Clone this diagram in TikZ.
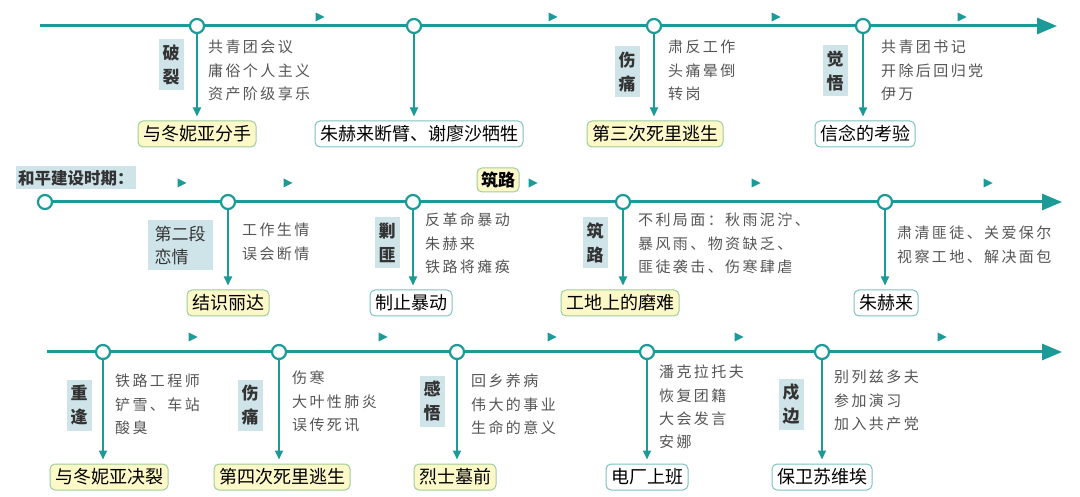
\documentclass[tikz,border=0pt]{standalone}
\usepackage{fontspec}
\setmainfont{Noto Sans CJK SC}
\newfontfamily\notefont[LetterSpace=16]{Noto Sans CJK SC}
\usetikzlibrary{arrows.meta}
\definecolor{tl}{HTML}{1B9A97}
\definecolor{tagbg}{HTML}{CFE4E9}
\definecolor{yfill}{HTML}{FCF8C8}
\definecolor{ydraw}{HTML}{9CCF98}
\definecolor{wdraw}{HTML}{7CC3BF}
\definecolor{notegray}{HTML}{555555}
\tikzset{
  axis/.style={draw=tl, line width=3pt, -{Triangle[length=20pt,width=16pt]}},
  dot/.style={circle, draw=tl, fill=white, line width=2.2pt, minimum size=14pt, inner sep=0pt},
  link/.style={draw=tl, line width=1.8pt, -{Triangle[length=9pt,width=8pt]}, shorten >=4pt},
  lbl/.style={rounded corners=5pt, line width=1pt, font=\fontsize{18}{20}\selectfont, inner xsep=5pt, inner ysep=3pt, minimum height=26pt},
  ybox/.style={lbl, draw=ydraw, fill=yfill},
  wbox/.style={lbl, draw=wdraw, fill=white},
  tag/.style={fill=tagbg, text=black!80, font=\bfseries\fontsize{17}{24}\selectfont, align=center, inner sep=0pt, minimum width=25pt, minimum height=51pt},
  note/.style={anchor=north west, align=left, inner sep=0pt, text=notegray, font=\notefont\fontsize{15}{23.3}\selectfont},
}
\begin{document}
\begin{tikzpicture}[x=1pt, y=-1pt, line join=round]
	\useasboundingbox (0,0) rectangle (1080,497);
	% 第一行
	\coordinate (s1) at (40,26);
	\coordinate (e1) at (1057,26);
	\draw[axis] (s1) -- (e1);
	\foreach \x in {320,553,776,962}
		\fill[tl] (\x-4.5,17-4.5) -- (\x+4.5,17) -- (\x-4.5,17+4.5) -- cycle;
	\node[dot] (d11) at (197,26) {};
	\node[dot] (d12) at (414,26) {};
	\node[dot] (d13) at (654,26) {};
	\node[dot] (d14) at (863,26) {};
	\node[ybox] (b11) at (197,134) {与冬妮亚分手};
	\node[wbox] (b12) at (419,134) {朱赫来断臂、谢廖沙牺牲};
	\node[ybox] (b13) at (655,134) {第三次死里逃生};
	\node[wbox] (b14) at (865,134) {信念的考验};
	\foreach \i in {1,...,4}
		\draw[link] (d1\i) -- (d1\i |- b1\i.north);
	\node[tag] (t11) at (171,65) {破\\裂};
	\node[tag] (t12) at (627,72) {伤\\痛};
	\node[tag] (t13) at (835,71) {觉\\悟};
	\node[note] (n11) at (208,40) {共青团会议\\庸俗个人主义\\资产阶级享乐};
	\node[note] (n12) at (668,40) {肃反工作\\头痛晕倒\\转岗};
	\node[note] (n13) at (881,40) {共青团书记\\开除后回归党\\伊万};
	
	% 第二行
	\node[fill=tagbg, text=black!80, font=\bfseries\fontsize{16.5}{18}\selectfont, inner xsep=2pt, inner ysep=2pt, minimum height=23pt, anchor=west] (era) at (16,178) {和平建设时期：};
	\node[dot] (d20) at (45,202) {};
	\coordinate (e2) at (1062,202);
	\draw[axis] (d20) -- (e2);
	\foreach \x in {182,288,533,756,988}
		\fill[tl] (\x-4.5,183-4.5) -- (\x+4.5,183) -- (\x-4.5,183+4.5) -- cycle;
	\node[ybox, font=\bfseries\fontsize{17}{18}\selectfont, minimum height=24pt, inner xsep=4pt] (zl) at (498,180) {筑路};
	\node[dot] (d21) at (228,202) {};
	\node[dot] (d22) at (413,202) {};
	\node[dot] (d23) at (623,202) {};
	\node[dot] (d24) at (885,202) {};
	\node[ybox] (b21) at (228,303) {结识丽达};
	\node[wbox] (b22) at (411,303) {制止暴动};
	\node[ybox] (b23) at (620,303) {工地上的磨难};
	\node[wbox] (b24) at (886,303) {朱赫来};
	\foreach \i in {1,...,4}
		\draw[link] (d2\i) -- (d2\i |- b2\i.north);
	\node[tag, align=left, font=\fontsize{17}{23}\selectfont, minimum width=65pt, minimum height=50pt] (t21) at (180,245) {第二段\\恋情};
	\node[tag] (t22) at (387,243) {剿\\匪};
	\node[tag] (t23) at (595,243) {筑\\路};
	\node[note] (n21) at (242,223) {工作生情\\误会断情};
	\node[note] (n22) at (425,213) {反革命暴动\\朱赫来\\铁路将瘫痪};
	\node[note] (n23) at (638,213) {不利局面：秋雨泥泞、\\暴风雨、物资缺乏、\\匪徒袭击、伤寒肆虐};
	\node[note] (n24) at (897,226) {肃清匪徒、关爱保尔\\视察工地、解决面包};
	
	% 第三行
	\coordinate (s3) at (47,352);
	\coordinate (e3) at (1062,352);
	\draw[axis] (s3) -- (e3);
	\foreach \x in {193,383,552,739,942}
		\fill[tl] (\x-4.5,337-4.5) -- (\x+4.5,337) -- (\x-4.5,337+4.5) -- cycle;
	\node[dot] (d31) at (103,352) {};
	\node[dot] (d32) at (279,352) {};
	\node[dot] (d33) at (457,352) {};
	\node[dot] (d34) at (647,352) {};
	\node[dot] (d35) at (822,352) {};
	\node[ybox] (b31) at (109,477) {与冬妮亚决裂};
	\node[ybox] (b32) at (282,477) {第四次死里逃生};
	\node[ybox] (b33) at (455,477) {烈士墓前};
	\node[wbox] (b34) at (647,477) {电厂上班};
	\node[wbox] (b35) at (822,477) {保卫苏维埃};
	\foreach \i in {1,...,5}
		\draw[link] (d3\i) -- (d3\i |- b3\i.north);
	\node[tag] (t31) at (79,405) {重\\逢};
	\node[tag] (t32) at (250,405) {伤\\痛};
	\node[tag] (t33) at (432,401) {感\\悟};
	\node[tag] (t34) at (791,404) {戍\\边};
	\node[note] (n31) at (115,374) {铁路工程师\\铲雪、车站\\酸臭};
	\node[note] (n32) at (292,371) {伤寒\\大叶性肺炎\\误传死讯};
	\node[note] (n33) at (471,374) {回乡养病\\伟大的事业\\生命的意义};
	\node[note] (n34) at (659,365) {潘克拉托夫\\恢复团籍\\大会发言\\安娜};
	\node[note] (n35) at (834,370) {别列兹多夫\\参加演习\\加入共产党};
\end{tikzpicture}
\end{document}
